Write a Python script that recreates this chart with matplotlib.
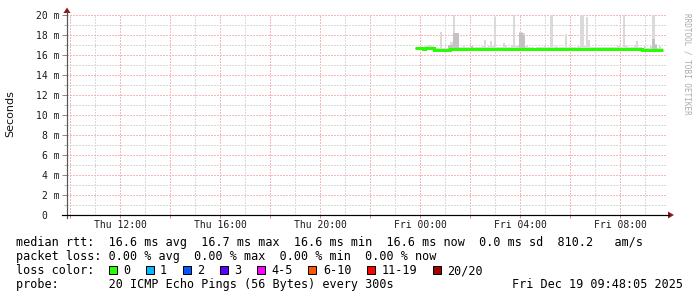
import numpy as np
import matplotlib
matplotlib.use("Agg")
import matplotlib.pyplot as plt
from matplotlib.patches import Rectangle, Polygon
from matplotlib.lines import Line2D

# ---------------- data ----------------
start_hour = 23.8          # first sample: Thu 23:48 (hours since Thu 00:00)
step_hour = 5 / 60         # 300 s step
x_range = (9.88, 33.88)    # 24 h window ending Fri 09:48

median_ms = [
    16.68, 16.68, 16.68, 16.68, 16.60, 16.68, 16.68, 16.68, 16.68, 16.53, 16.53, 16.53,
    16.53, 16.53, 16.53, 16.53, 16.53, 16.60, 16.60, 16.60, 16.60, 16.60, 16.60, 16.60,
    16.60, 16.60, 16.60, 16.60, 16.60, 16.60, 16.60, 16.60, 16.60, 16.60, 16.60, 16.60,
    16.60, 16.60, 16.60, 16.60, 16.60, 16.60, 16.60, 16.60, 16.60, 16.60, 16.60, 16.60,
    16.60, 16.60, 16.60, 16.60, 16.60, 16.60, 16.60, 16.60, 16.60, 16.60, 16.60, 16.60,
    16.60, 16.60, 16.60, 16.60, 16.60, 16.60, 16.60, 16.60, 16.60, 16.60, 16.60, 16.60,
    16.60, 16.60, 16.60, 16.60, 16.60, 16.60, 16.60, 16.60, 16.60, 16.60, 16.60, 16.60,
    16.60, 16.60, 16.60, 16.60, 16.60, 16.60, 16.60, 16.60, 16.60, 16.60, 16.60, 16.60,
    16.60, 16.60, 16.60, 16.60, 16.60, 16.60, 16.60, 16.60, 16.60, 16.60, 16.60, 16.60,
    16.60, 16.53, 16.53, 16.53, 16.53, 16.53, 16.53, 16.53, 16.53, 16.53, 16.53,
]

ping_max_ms = [
    16.75, 16.75, 16.80, 16.80, 16.80, 16.90, 17.00, 17.00, 16.90, 16.75, 16.75, 16.75,
    18.30, 16.75, 16.70, 16.75, 16.90, 17.30, 20.50, 18.20, 18.20, 16.80, 16.75, 16.90,
    16.75, 16.75, 16.75, 16.90, 16.80, 16.75, 16.75, 16.80, 16.85, 17.50, 16.80, 16.90,
    17.40, 16.85, 19.80, 16.80, 16.75, 16.80, 17.20, 16.90, 16.75, 16.75, 16.85, 20.50,
    16.90, 16.85, 18.30, 18.30, 18.20, 16.90, 16.80, 16.75, 16.75, 16.70, 16.75, 16.75,
    16.75, 16.75, 17.00, 16.80, 16.75, 20.50, 16.75, 16.90, 16.75, 16.75, 16.75, 16.75,
    18.10, 16.75, 16.75, 16.75, 16.75, 16.80, 16.85, 20.50, 20.50, 16.90, 19.80, 17.50,
    16.80, 16.75, 16.75, 16.75, 16.75, 16.75, 16.75, 16.75, 16.75, 16.75, 16.75, 16.75,
    16.80, 16.90, 16.90, 16.80, 20.50, 16.85, 16.75, 16.75, 16.80, 16.90, 17.40, 16.80,
    16.75, 16.75, 16.90, 16.75, 16.75, 16.90, 20.50, 17.10, 16.75, 16.90, 16.75,
]

ping_mid_ms = [
    16.60, 16.60, 16.60, 16.60, 16.60, 16.60, 16.60, 16.60, 16.60, 16.60, 16.60, 16.60,
    16.60, 16.60, 16.60, 16.60, 17.00, 17.00, 18.20, 18.20, 18.20, 16.60, 16.60, 16.60,
    16.60, 16.60, 16.60, 16.95, 16.60, 16.60, 16.60, 16.60, 16.60, 16.60, 16.60, 16.60,
    16.60, 16.60, 16.60, 16.60, 16.60, 16.60, 16.60, 16.60, 16.60, 16.60, 16.60, 16.60,
    16.60, 16.60, 18.20, 18.20, 18.00, 16.60, 16.60, 16.60, 16.60, 16.60, 16.60, 16.60,
    16.60, 16.60, 16.60, 16.60, 16.60, 16.60, 16.60, 16.60, 16.60, 16.60, 16.60, 16.60,
    16.60, 16.60, 16.60, 16.60, 16.60, 16.60, 16.60, 16.60, 16.60, 16.60, 16.60, 16.60,
    16.60, 16.60, 16.60, 16.60, 16.60, 16.60, 16.60, 16.60, 16.60, 16.60, 16.60, 16.60,
    16.60, 16.60, 16.60, 16.60, 16.60, 16.60, 16.60, 16.60, 16.60, 16.60, 16.60, 16.60,
    16.60, 16.60, 16.60, 16.60, 16.60, 16.60, 17.60, 17.00, 16.60, 16.60, 16.60,
]

x_tick_hours = [12, 16, 20, 24, 28, 32]
x_tick_labels = ["Thu 12:00", "Thu 16:00", "Thu 20:00", "Fri 00:00", "Fri 04:00", "Fri 08:00"]
y_tick_values = [0, 2, 4, 6, 8, 10, 12, 14, 16, 18, 20]
y_tick_labels = ["0  ", "2 m", "4 m", "6 m", "8 m", "10 m", "12 m", "14 m", "16 m", "18 m", "20 m"]

loss_labels = ["0", "1", "2", "3", "4-5", "6-10", "11-19", "20/20"]
loss_colors = ["#26ff00", "#00b8ff", "#0059ff", "#5e00ff", "#ff00ff", "#ff5500", "#ff0000", "#a10000"]

legend_rtt = "median rtt:  16.6 ms avg  16.7 ms max  16.6 ms min  16.6 ms now  0.0 ms sd  810.2   am/s"
legend_loss = "packet loss: 0.00 % avg  0.00 % max  0.00 % min  0.00 % now"
legend_probe = "probe:       20 ICMP Echo Pings (56 Bytes) every 300s"
timestamp = "Fri Dec 19 09:48:05 2025"
watermark = "RRDTOOL / TOBI OETIKER"
y_label = "Seconds"

# ---------------- figure ----------------
W, H = 697, 297
fig = plt.figure(figsize=(W / 100, H / 100), dpi=100, facecolor="white")


def fx(px):
    return px / W


def fy(py):
    return 1 - py / H


MONO = "DejaVu Sans Mono"
PT = 0.72  # one pixel in points

ax = fig.add_axes([fx(67), fy(215), 600 / W, 200 / H])
ax.set_facecolor("white")
ax.set_xlim(*x_range)
ax.set_ylim(0, 20)
for s in ax.spines.values():
    s.set_visible(False)

# dotted grid (1 px on, 1 px off)
DOT = (0, (1.4, 1.4))
RED_GRID = "#f6b8b8"
GRAY_GRID = "#dadada"
for h in range(int(np.ceil(x_range[0])), int(np.floor(x_range[1])) + 1):
    col = RED_GRID if h % 2 == 0 else GRAY_GRID
    ax.axvline(h, color=col, lw=PT, ls=DOT, antialiased=False, zorder=1)
for v in range(1, 21):
    col = RED_GRID if v % 2 == 0 else GRAY_GRID
    ax.axhline(v, color=col, lw=PT, ls=DOT, antialiased=False, zorder=1)

# smoke + median
n = len(median_ms)
t = start_hour + step_hour * np.arange(n)
med = np.array(median_ms)
pmax = np.array(ping_max_ms)
pmid = np.array(ping_mid_ms)
ax.bar(t, pmax - (med - 0.08), bottom=med - 0.08, width=step_hour, align="edge",
       color="#dadada", lw=0, zorder=2)
ax.bar(t, np.clip(pmid - med, 0, None), bottom=med, width=step_hour, align="edge",
       color="#c2c2c2", lw=0, zorder=2.1)
ax.stairs(med, np.append(t, t[-1] + step_hour), baseline=None, color=loss_colors[0],
          lw=3 * PT, zorder=3)

# ticks
major_x = list(range(10, 34, 2))
ax.set_xticks(major_x, [x_tick_labels[x_tick_hours.index(h)] if h in x_tick_hours else "" for h in major_x])
ax.set_yticks(y_tick_values, y_tick_labels)
ax.set_yticks([v for v in range(1, 20, 2)], minor=True)
ax.tick_params(axis="x", which="major", length=3 * PT, width=PT, color="#f08080",
               pad=1.5, labelsize=7, labelcolor="#1a1a1a")
ax.tick_params(axis="y", which="major", length=5 * PT, width=PT, color="#8a8a8a",
               pad=1.5, labelsize=7, labelcolor="#1a1a1a")
ax.tick_params(axis="y", which="minor", length=3 * PT, width=PT, color="#b8b8b8")
for lab in ax.get_xticklabels() + ax.get_yticklabels():
    lab.set_fontfamily(MONO)

# axes lines and arrows
fig.add_artist(Line2D([fx(67), fx(67)], [fy(218), fy(12)], transform=fig.transFigure,
                      color="#555555", lw=PT * 1.2))
fig.add_artist(Line2D([fx(62), fx(669)], [fy(215), fy(215)], transform=fig.transFigure,
                      color="#000000", lw=PT * 1.2))
fig.add_artist(Polygon([[fx(63.5), fy(13)], [fx(70.5), fy(13)], [fx(67), fy(7.5)]],
                       closed=True, transform=fig.transFigure, color="#8b1a1a", lw=0))
fig.add_artist(Polygon([[fx(668), fy(211.5)], [fx(668), fy(218.5)], [fx(674), fy(215)]],
                       closed=True, transform=fig.transFigure, color="#8b1a1a", lw=0))

# labels
fig.text(fx(10.5), fy(114), y_label, rotation=90, ha="center", va="center",
         fontsize=8, family="DejaVu Sans", color="#111111")
fig.text(fx(686.5), fy(13), watermark, rotation=270, ha="center", va="top",
         fontsize=5.5, family=MONO, color="#aaaaaa")

# legend
LFS = 8.5
fig.text(fx(16), fy(246), legend_rtt, family=MONO, fontsize=LFS, va="baseline")
fig.text(fx(16), fy(260), legend_loss, family=MONO, fontsize=LFS, va="baseline")
fig.text(fx(16), fy(274), "loss color:", family=MONO, fontsize=LFS, va="baseline")
bx = 108.5
for lab, col in zip(loss_labels, loss_colors):
    fig.add_artist(Rectangle((fx(bx), fy(273.5)), 8 / W, 8 / H, transform=fig.transFigure,
                             facecolor=col, edgecolor="black", lw=PT))
    fig.text(fx(bx + 14.5), fy(274), lab, family=MONO, fontsize=LFS, va="baseline")
    bx += 7.13 * len(lab) + 30.0
fig.text(fx(16), fy(288), legend_probe, family=MONO, fontsize=LFS, va="baseline")
fig.text(fx(683), fy(288), timestamp, family=MONO, fontsize=LFS, va="baseline", ha="right")

fig.savefig("out.png", dpi=100, facecolor="white")
